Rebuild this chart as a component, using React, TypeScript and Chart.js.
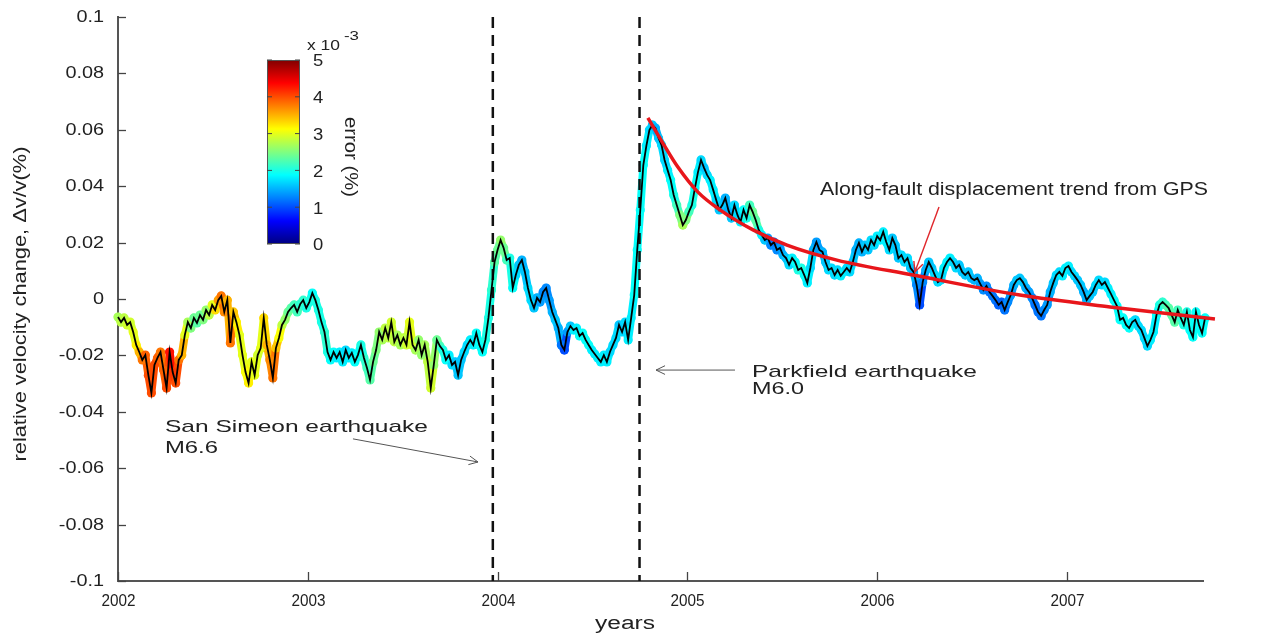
import React, { useEffect, useRef } from "react";
import { Chart, registerables } from "chart.js";

Chart.register(...registerables);

const FONT = '"Liberation Sans", Arial, Helvetica, sans-serif';

// ---- sampling of the velocity-change series (decimal years) ----
const START_YEAR = 2002.0;
const SAMPLE_STEP = 0.016;

// ---- relative velocity change dv/v (%) ----
const dvv2002 = [
  -0.0064, -0.0082, -0.0067, -0.0092, -0.0082, -0.0117, -0.0163, -0.0188, -0.0216, -0.0199,
  -0.0270, -0.0333, -0.0234, -0.0209, -0.0188, -0.0252, -0.0316, -0.0188, -0.0259, -0.0298,
  -0.0216, -0.0199, -0.0128, -0.0082, -0.0103, -0.0067, -0.0085, -0.0057, -0.0074, -0.0039,
  -0.0057, -0.0021, -0.0039, -0.0004, 0.0011, -0.0046, -0.0004, -0.0156, -0.0046, -0.0082,
  -0.0128, -0.0199, -0.0259, -0.0298, -0.0223, -0.0270, -0.0199, -0.0174, -0.0067, -0.0163,
  -0.0216, -0.0280, -0.0174, -0.0138, -0.0092, -0.0074, -0.0046, -0.0032, -0.0021, -0.0046,
  -0.0018, -0.0004, -0.0032, -0.0011, 0.0021,
];
const dvv2003 = [
  -0.0004, -0.0039, -0.0082, -0.0117, -0.0188, -0.0216, -0.0188, -0.0209, -0.0188, -0.0223,
  -0.0181, -0.0209, -0.0191, -0.0223, -0.0199, -0.0163, -0.0209, -0.0245, -0.0287, -0.0223,
  -0.0181, -0.0117, -0.0145, -0.0103, -0.0138, -0.0082, -0.0152, -0.0128, -0.0163, -0.0138,
  -0.0163, -0.0082, -0.0163, -0.0181, -0.0145, -0.0199, -0.0163, -0.0223, -0.0316, -0.0234,
  -0.0145, -0.0167, -0.0181, -0.0216, -0.0199, -0.0234, -0.0223, -0.0270, -0.0216, -0.0188,
  -0.0163, -0.0145, -0.0163, -0.0121, -0.0163, -0.0188, -0.0145, -0.0067, 0.0032,
];
const dvvAfterSanSimeon = [
  0.0131, 0.0174, 0.0209, 0.0181, 0.0138, 0.0145, 0.0039, 0.0085, 0.0121, 0.0138,
  0.0096, 0.0039, -0.0004, -0.0032, 0.0004, -0.0011, 0.0025, 0.0039, -0.0004, -0.0046,
  -0.0074, -0.0103, -0.0163, -0.0181, -0.0117, -0.0096, -0.0110, -0.0103, -0.0131, -0.0121,
  -0.0145, -0.0163, -0.0181, -0.0195, -0.0209, -0.0223, -0.0199, -0.0223, -0.0188, -0.0163,
  -0.0138, -0.0092, -0.0117, -0.0082, -0.0145, -0.0067, 0.0014, 0.0174,
];
const dvvCoseismic = [0.0316, 0.0475, 0.0543, 0.0599, 0.0617, 0.0606];
const dvvRecovery2005 = [
  0.0571, 0.0546, 0.0493, 0.0457, 0.0422, 0.0369, 0.0333, 0.0298, 0.0262, 0.0280,
  0.0309, 0.0333, 0.0394, 0.0450, 0.0493, 0.0465, 0.0440, 0.0422, 0.0387, 0.0351,
  0.0316, 0.0333, 0.0358, 0.0316, 0.0287, 0.0333, 0.0298, 0.0273, 0.0316, 0.0287,
  0.0333, 0.0309, 0.0280, 0.0245, 0.0227, 0.0209, 0.0216, 0.0191, 0.0202, 0.0174,
  0.0181, 0.0156, 0.0145, 0.0121, 0.0145, 0.0131, 0.0103, 0.0110, 0.0085, 0.0057,
  0.0110, 0.0174, 0.0202, 0.0174, 0.0167, 0.0131, 0.0103, 0.0110, 0.0085, 0.0103,
  0.0082, 0.0096, 0.0110, 0.0096, 0.0131, 0.0174, 0.0199, 0.0167, 0.0191, 0.0174,
  0.0209, 0.0191, 0.0223, 0.0209, 0.0238, 0.0202, 0.0174, 0.0216, 0.0191, 0.0145,
  0.0156, 0.0131, 0.0145, 0.0110, 0.0096, 0.0050, -0.0021,
];
const dvvRecovery2006 = [
  0.0060, 0.0103, 0.0131, 0.0110, 0.0085, 0.0060, 0.0067, 0.0110, 0.0131, 0.0145,
  0.0131, 0.0110, 0.0121, 0.0096, 0.0085, 0.0096, 0.0074, 0.0067, 0.0074, 0.0053,
  0.0032, 0.0046, 0.0025, 0.0011, -0.0004, -0.0021, -0.0011, -0.0039, -0.0011, 0.0014,
  0.0050, 0.0067, 0.0074, 0.0060, 0.0039, 0.0025, 0.0004, -0.0021, -0.0046, -0.0060,
  -0.0039, -0.0021, 0.0025, 0.0057, 0.0085, 0.0096, 0.0082, 0.0110, 0.0117, 0.0096,
  0.0082, 0.0067, 0.0050, 0.0025, -0.0004, 0.0011, 0.0025, 0.0050, 0.0067, 0.0050,
  0.0060, 0.0039, 0.0018, -0.0004, -0.0025, -0.0074, -0.0067, -0.0092, -0.0103, -0.0082,
  -0.0074, -0.0096, -0.0110, -0.0138, -0.0167, -0.0145, -0.0117, -0.0057, -0.0021, -0.0011,
  -0.0021, -0.0032, -0.0057, -0.0082, -0.0039, -0.0067, -0.0092, -0.0046, -0.0110, -0.0135,
  -0.0046, -0.0092, -0.0121, -0.0067, -0.0103, -0.0057, -0.0082,
];

// ---- measurement error (x 10^-3 %) ----
const err2002 = [
  2.7, 2.8, 2.8, 2.9, 2.9, 3.0, 3.2, 3.5, 3.8, 3.9,
  4.0, 4.0, 4.0, 3.9, 3.8, 3.9, 4.0, 4.3, 4.1, 4.0,
  3.8, 3.5, 3.0, 2.7, 2.5, 2.4, 2.3, 2.4, 2.5, 2.6,
  2.8, 3.0, 3.3, 3.6, 3.8, 3.7, 3.5, 3.8, 3.4, 3.2,
  3.0, 3.0, 3.1, 3.2, 3.0, 3.0, 2.9, 3.0, 3.3, 3.5,
  3.7, 3.8, 3.4, 3.1, 2.8, 2.6, 2.4, 2.3, 2.2, 2.2,
  2.1, 2.1, 2.0, 2.0, 1.9,
];
const err2003 = [
  2.0, 2.0, 2.0, 2.1, 2.0, 1.9, 1.9, 1.8, 1.8, 1.8,
  1.7, 1.8, 1.8, 1.9, 1.9, 2.0, 2.1, 2.2, 2.3, 2.4,
  2.5, 2.6, 2.7, 2.8, 2.8, 2.9, 2.8, 2.7, 2.7, 2.8,
  2.9, 3.0, 2.9, 2.7, 2.6, 2.6, 2.7, 2.8, 2.9, 2.6,
  2.4, 2.2, 2.0, 1.9, 1.8, 1.7, 1.6, 1.6, 1.6, 1.7,
  1.7, 1.8, 1.8, 1.9, 1.9, 1.9, 2.0, 2.0, 2.1,
];
const errAfterSanSimeon = [
  2.3, 2.4, 2.6, 2.4, 2.2, 2.0, 1.9, 1.7, 1.6, 1.5,
  1.6, 1.7, 1.7, 1.6, 1.5, 1.4, 1.3, 1.3, 1.4, 1.5,
  1.6, 1.5, 1.2, 1.0, 1.4, 1.6, 1.8, 1.8, 1.9, 1.9,
  1.9, 1.9, 1.8, 1.8, 1.8, 1.8, 1.8, 1.8, 1.7, 1.7,
  1.7, 1.6, 1.7, 1.7, 1.8, 1.8, 1.9, 1.9,
];
const errCoseismic = [1.9, 1.9, 1.8, 1.7, 1.6, 1.5];
const errRecovery2005 = [
  1.6, 1.7, 1.7, 1.8, 1.9, 2.0, 2.2, 2.5, 2.7, 2.5,
  2.2, 2.0, 1.9, 1.8, 1.7, 1.6, 1.7, 1.8, 1.8, 1.7,
  1.6, 1.6, 1.5, 1.5, 1.6, 1.7, 1.7, 1.8, 1.9, 2.0,
  2.2, 2.4, 2.3, 2.0, 1.8, 1.6, 1.4, 1.3, 1.2, 1.3,
  1.4, 1.5, 1.6, 1.7, 1.8, 1.9, 2.0, 2.0, 1.9, 1.8,
  1.7, 1.5, 1.4, 1.4, 1.5, 1.6, 1.7, 1.7, 1.7, 1.7,
  1.8, 1.8, 1.7, 1.7, 1.6, 1.5, 1.5, 1.5, 1.6, 1.6,
  1.7, 1.7, 1.8, 1.8, 1.8, 1.8, 1.7, 1.6, 1.6, 1.6,
  1.7, 1.7, 1.7, 1.6, 1.5, 1.3, 1.0,
];
const errRecovery2006 = [
  1.3, 1.5, 1.6, 1.6, 1.7, 1.7, 1.7, 1.8, 1.8, 1.8,
  1.7, 1.7, 1.6, 1.6, 1.6, 1.6, 1.6, 1.5, 1.5, 1.4,
  1.3, 1.3, 1.2, 1.2, 1.2, 1.1, 1.1, 1.2, 1.3, 1.4,
  1.5, 1.6, 1.6, 1.6, 1.5, 1.4, 1.3, 1.2, 1.2, 1.2,
  1.3, 1.4, 1.5, 1.6, 1.7, 1.7, 1.8, 1.8, 1.8, 1.7,
  1.7, 1.6, 1.6, 1.5, 1.5, 1.6, 1.6, 1.7, 1.7, 1.7,
  1.7, 1.8, 1.8, 1.9, 1.9, 1.9, 1.9, 1.9, 1.9, 1.8,
  1.7, 1.7, 1.7, 1.7, 1.7, 1.8, 1.8, 1.9, 2.0, 2.1,
  2.2, 2.3, 2.3, 2.3, 2.2, 2.1, 2.0, 2.0, 1.9, 1.9,
  1.9, 1.9, 1.9, 1.9, 1.9, 1.9, 1.9,
];

// ---- GPS along-fault displacement trend ----
const trendYears = [2004.792, 2004.871, 2004.95, 2005.056, 2005.172, 2005.346, 2005.525, 2005.788, 2006.189, 2006.752, 2007.227, 2007.78];
const trendValues = [0.0642, 0.0553, 0.0468, 0.0379, 0.0316, 0.0245, 0.0191, 0.0138, 0.0085, 0.0014, -0.0028, -0.0071];

// ---- earthquakes ----
const sanSimeonYear = 2003.975;
const parkfieldYear = 2004.748;

// ---- axes ----
const X_MIN = 2002;
const X_MAX = 2007.717;
const Y_MIN = -0.1;
const Y_MAX = 0.1;
const colorbarTicks = [0, 1, 2, 3, 4, 5];
const ERR_MAX = 5;

// annotation arrows (data coordinates)
const gpsArrow = { x1: 2006.326, y1: 0.0326, x2: 2006.199, y2: 0.0096 };
const parkfieldArrow = { x1: 2005.251, y1: -0.0252, x2: 2004.835, y2: -0.0252 };
const sanSimeonArrow = { x1: 2003.238, y1: -0.0496, x2: 2003.897, y2: -0.0578 };

const dvv = [...dvv2002, ...dvv2003, ...dvvAfterSanSimeon, ...dvvCoseismic, ...dvvRecovery2005, ...dvvRecovery2006];
const errs = [...err2002, ...err2003, ...errAfterSanSimeon, ...errCoseismic, ...errRecovery2005, ...errRecovery2006];

function jet(t: number): string {
  const tt = Math.max(0, Math.min(1, t));
  const c = (v: number) => Math.round(255 * Math.max(0, Math.min(1, v)));
  const r = 1.5 - Math.abs(4 * tt - 3);
  const g = 1.5 - Math.abs(4 * tt - 2);
  const b = 1.5 - Math.abs(4 * tt - 1);
  return `rgb(${c(r)},${c(g)},${c(b)})`;
}

function fitText(
  ctx: CanvasRenderingContext2D,
  text: string,
  x: number,
  y: number,
  size: number,
  width: number | null,
  align: CanvasTextAlign,
  baseline: CanvasTextBaseline,
  rot = 0,
  color = "#222",
  stretch = 1
) {
  ctx.save();
  ctx.font = `${size}px ${FONT}`;
  const m = ctx.measureText(text).width;
  const sx = width ? width / m : stretch;
  ctx.translate(x, y);
  ctx.rotate(rot);
  ctx.scale(sx, 1);
  ctx.textAlign = align;
  ctx.textBaseline = baseline;
  ctx.fillStyle = color;
  ctx.fillText(text, 0, 0);
  ctx.restore();
}

function arrow(ctx: CanvasRenderingContext2D, x1: number, y1: number, x2: number, y2: number, color: string, w: number, head: number) {
  ctx.save();
  ctx.strokeStyle = color;
  ctx.lineWidth = w;
  ctx.beginPath();
  ctx.moveTo(x1, y1);
  ctx.lineTo(x2, y2);
  ctx.stroke();
  const a = Math.atan2(y2 - y1, x2 - x1);
  const ang = 0.45;
  ctx.beginPath();
  ctx.moveTo(x2 - head * Math.cos(a - ang), y2 - head * Math.sin(a - ang));
  ctx.lineTo(x2, y2);
  ctx.lineTo(x2 - head * Math.cos(a + ang), y2 - head * Math.sin(a + ang));
  ctx.stroke();
  ctx.restore();
}

const fmtY = (v: number) => {
  const r = Math.round(v * 100) / 100;
  return r === 0 ? "0" : String(r);
};

const overlayPlugin = {
  id: "overlay",
  afterDraw(chart: any) {
    const ctx: CanvasRenderingContext2D = chart.ctx;
    const xs = chart.scales.x;
    const ys = chart.scales.y;
    const ca = chart.chartArea;
    ctx.save();
    // inward ticks + tick labels
    ctx.strokeStyle = "#444";
    ctx.lineWidth = 1.3;
    xs.ticks.forEach((t: any) => {
      const px = Math.round(xs.getPixelForValue(t.value)) + 0.5;
      ctx.beginPath();
      ctx.moveTo(px, ca.bottom);
      ctx.lineTo(px, ca.bottom - 9);
      ctx.stroke();
      fitText(ctx, String(t.value), px, 601, 17, 34, "center", "middle");
    });
    ys.ticks.forEach((t: any) => {
      const py = Math.round(ys.getPixelForValue(t.value)) + 0.5;
      ctx.beginPath();
      ctx.moveTo(ca.left, py);
      ctx.lineTo(ca.left + 8, py);
      ctx.stroke();
      fitText(ctx, fmtY(t.value), 104, py, 16, null, "right", "middle", 0, "#222", 1.24);
    });

    // axis titles
    fitText(ctx, "relative velocity change, \u0394v/v(%)", 21, 304, 19, 315, "center", "middle", -Math.PI / 2);
    fitText(ctx, "years", 625, 624, 18, 60, "center", "middle");

    // colorbar
    const cbL = 267, cbR = 300, cbT = 60, cbB = 244;
    const grad = ctx.createLinearGradient(0, cbB, 0, cbT);
    for (let i = 0; i <= 16; i++) grad.addColorStop(i / 16, jet(i / 16));
    ctx.fillStyle = grad;
    ctx.fillRect(cbL, cbT, cbR - cbL, cbB - cbT);
    ctx.strokeStyle = "#555";
    ctx.lineWidth = 1;
    ctx.strokeRect(cbL + 0.5, cbT + 0.5, cbR - cbL - 1, cbB - cbT - 1);
    colorbarTicks.forEach((v) => {
      const py = cbB - (v / ERR_MAX) * (cbB - cbT);
      ctx.strokeStyle = "#444";
      ctx.beginPath();
      ctx.moveTo(cbL, py);
      ctx.lineTo(cbL + 5, py);
      ctx.moveTo(cbR - 5, py);
      ctx.lineTo(cbR, py);
      ctx.stroke();
      fitText(ctx, String(v), 313, py + 2, 16, null, "left", "middle", 0, "#222", 1.15);
    });
    fitText(ctx, "x 10", 307, 50, 14, 33, "left", "alphabetic");
    fitText(ctx, "-3", 344, 40, 12, 15, "left", "alphabetic");
    fitText(ctx, "error (%)", 350, 157, 18, 80, "center", "middle", Math.PI / 2);

    // annotations
    const P = (x: number, y: number) => [xs.getPixelForValue(x), ys.getPixelForValue(y)];
    let a = P(gpsArrow.x1, gpsArrow.y1), b = P(gpsArrow.x2, gpsArrow.y2);
    arrow(ctx, a[0], a[1], b[0], b[1], "#e0262b", 1.4, 11);
    a = P(parkfieldArrow.x1, parkfieldArrow.y1); b = P(parkfieldArrow.x2, parkfieldArrow.y2);
    arrow(ctx, a[0], a[1], b[0], b[1], "#555", 1, 10);
    a = P(sanSimeonArrow.x1, sanSimeonArrow.y1); b = P(sanSimeonArrow.x2, sanSimeonArrow.y2);
    arrow(ctx, a[0], a[1], b[0], b[1], "#555", 1, 10);

    fitText(ctx, "Along-fault displacement trend from GPS", 820, 195, 18, 388, "left", "alphabetic");
    fitText(ctx, "Parkfield earthquake", 752, 377, 17, 225, "left", "alphabetic");
    fitText(ctx, "M6.0", 752, 394, 17, 52, "left", "alphabetic");
    fitText(ctx, "San Simeon earthquake", 165, 432, 17, 263, "left", "alphabetic");
    fitText(ctx, "M6.6", 165, 453, 17, 53, "left", "alphabetic");
    ctx.restore();
  },
};

export default function App() {
  const ref = useRef<HTMLCanvasElement | null>(null);
  useEffect(() => {
    if (!ref.current) return;
    const series = dvv.map((v, i) => ({ x: START_YEAR + i * SAMPLE_STEP, y: v }));
    const haloColors = errs.map((e) => jet(e / ERR_MAX));
    const trend = trendYears.map((x, i) => ({ x, y: trendValues[i] }));
    const chart = new Chart(ref.current, {
      type: "scatter",
      data: {
        datasets: [
          {
            data: trend,
            showLine: true,
            borderColor: "#e8161b",
            borderWidth: 3.5,
            pointRadius: 0,
            cubicInterpolationMode: "monotone",
            clip: false,
          } as any,
          {
            data: series,
            showLine: true,
            borderColor: "#000",
            borderWidth: 1.8,
            pointRadius: 0,
            clip: false,
          },
          {
            data: [{ x: sanSimeonYear, y: Y_MAX }, { x: sanSimeonYear, y: Y_MIN }],
            showLine: true,
            borderColor: "#111",
            borderWidth: 2.5,
            borderDash: [11, 7],
            pointRadius: 0,
          },
          {
            data: [{ x: parkfieldYear, y: Y_MAX }, { x: parkfieldYear, y: Y_MIN }],
            showLine: true,
            borderColor: "#111",
            borderWidth: 2.5,
            borderDash: [11, 7],
            pointRadius: 0,
          },
          {
            data: series,
            showLine: true,
            borderWidth: 8,
            borderCapStyle: "round",
            borderJoinStyle: "round",
            borderColor: haloColors[0],
            segment: { borderColor: (c: any) => haloColors[c.p0DataIndex] },
            pointRadius: 4.6,
            pointBorderWidth: 0,
            pointBackgroundColor: haloColors,
            clip: false,
          } as any,
        ],
      },
      options: {
        responsive: false,
        animation: false,
        devicePixelRatio: 1,
        events: [],
        layout: { padding: { left: 0, top: 17, right: 76, bottom: 0 } },
        plugins: { legend: { display: false }, tooltip: { enabled: false } },
        scales: {
          x: {
            type: "linear",
            min: X_MIN,
            max: X_MAX,
            afterFit: (s: any) => {
              s.height = 53;
            },
            grid: { display: false, drawTicks: false },
            border: { display: true, color: "#555", width: 2 },
            ticks: {
              display: false,
              stepSize: 1,
              includeBounds: false,
              autoSkip: false,
              maxRotation: 0,
            },
          },
          y: {
            type: "linear",
            min: Y_MIN,
            max: Y_MAX,
            afterFit: (s: any) => {
              s.width = 118;
            },
            grid: { display: false, drawTicks: false },
            border: { display: true, color: "#555", width: 2 },
            ticks: {
              display: false,
              stepSize: 0.02,
            },
          },
        },
      },
      plugins: [overlayPlugin],
    } as any);
    return () => chart.destroy();
  }, []);
  return (
    <div style={{ position: "fixed", left: 0, top: 0, width: 1279, height: 634, background: "#fff" }}>
      <canvas ref={ref} width={1279} height={634} style={{ width: 1279, height: 634, display: "block" }} />
    </div>
  );
}
